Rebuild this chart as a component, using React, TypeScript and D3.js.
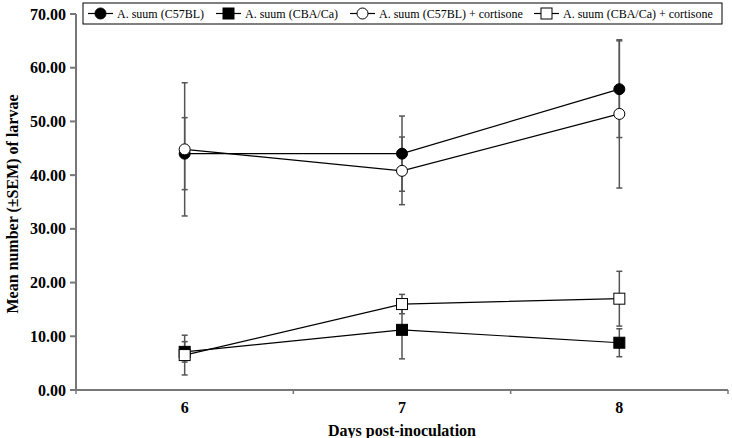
import React from 'react';
import * as d3 from 'd3';

const days = ['6', '7', '8'];
const yTicks = [0, 10, 20, 30, 40, 50, 60, 70];

const seriesNames = [
  'A. suum (C57BL)',
  'A. suum (CBA/Ca)',
  'A. suum (C57BL) + cortisone',
  'A. suum (CBA/Ca) + cortisone',
];
const c57Mean = [44.0, 44.0, 56.0];
const c57Sem = [6.7, 7.0, 9.0];
const cbaMean = [7.1, 11.2, 8.8];
const cbaSem = [1.9, 5.4, 2.6];
const c57CortMean = [44.8, 40.8, 51.4];
const c57CortSem = [12.4, 6.3, 13.8];
const cbaCortMean = [6.5, 16.0, 17.0];
const cbaCortSem = [3.7, 1.8, 5.1];

const means = [c57Mean, cbaMean, c57CortMean, cbaCortMean];
const sems = [c57Sem, cbaSem, c57CortSem, cbaCortSem];
const shapes = ['circle', 'square', 'circle', 'square'];
const fills = ['#000', '#000', '#fff', '#fff'];

const W = 732;
const H = 438;
const left = 76;
const right = 728;
const top = 14;
const bottom = 390;
const font = '"Liberation Serif", "Times New Roman", serif';

function Marker({ shape, fill, x, y }: { shape: string; fill: string; x: number; y: number }) {
  if (shape === 'circle') {
    return <circle cx={x} cy={y} r={5.5} fill={fill} stroke="#000" strokeWidth={1} />;
  }
  return <rect x={x - 5.5} y={y - 5.5} width={11} height={11} fill={fill} stroke="#000" strokeWidth={1} />;
}

export default function App() {
  const x = d3.scaleBand<string>().domain(days).range([left, right]);
  const y = d3.scaleLinear().domain([0, 70]).range([bottom, top]);
  const cx = (d: string) => (x(d) as number) + x.bandwidth() / 2;
  const line = d3.line<number>().x((_, i) => cx(days[i])).y(v => y(v));

  const legendX = [88, 216, 350, 534];
  const boundaries = [left, ...days.map(d => (x(d) as number) + x.bandwidth())];

  return (
    <svg width={W} height={H} style={{ position: 'absolute', left: 0, top: 0, background: '#fff' }}
      fontFamily={font}>
      {/* axes */}
      <line x1={left} x2={left} y1={top} y2={bottom} stroke="#777" strokeWidth={2} />
      <line x1={left} x2={right} y1={bottom} y2={bottom} stroke="#777" strokeWidth={2} />
      {yTicks.map(t => (
        <g key={t}>
          <line x1={left - 6} x2={left} y1={y(t)} y2={y(t)} stroke="#777" strokeWidth={2} />
          <text x={left - 10} y={y(t)} dy="0.35em" textAnchor="end" fontSize={16} fontWeight="bold">
            {d3.format('.2f')(t)}
          </text>
        </g>
      ))}
      {boundaries.map((b, i) => (
        <line key={i} x1={b} x2={b} y1={bottom} y2={bottom + 4} stroke="#777" strokeWidth={1.5} />
      ))}
      {days.map(d => (
        <text key={d} x={cx(d)} y={407} dy="0.35em" textAnchor="middle" fontSize={16} fontWeight="bold">{d}</text>
      ))}
      <text x={(left + right) / 2} y={430} dy="0.35em" textAnchor="middle" fontSize={16} fontWeight="bold">
        Days post-inoculation
      </text>
      <text transform={`translate(12,${(top + bottom) / 2 + 2}) rotate(-90)`} dy="0.35em" textAnchor="middle"
        fontSize={16} fontWeight="bold">
        Mean number (±SEM) of larvae
      </text>

      {/* error bars */}
      {means.map((m, s) => m.map((v, i) => {
        const px = cx(days[i]);
        const hi = y(v + sems[s][i]);
        const lo = y(v - sems[s][i]);
        return (
          <g key={`e${s}-${i}`} stroke="#555" strokeWidth={1.5}>
            <line x1={px} x2={px} y1={hi} y2={lo} />
            <line x1={px - 3} x2={px + 3} y1={hi} y2={hi} />
            <line x1={px - 3} x2={px + 3} y1={lo} y2={lo} />
          </g>
        );
      }))}

      {/* lines */}
      {means.map((m, s) => (
        <path key={`l${s}`} d={line(m) as string} fill="none" stroke="#000" strokeWidth={1.2} />
      ))}
      {means.map((m, s) => m.map((v, i) => (
        <Marker key={`m${s}-${i}`} shape={shapes[s]} fill={fills[s]} x={cx(days[i])} y={y(v)} />
      )))}

      {/* legend */}
      <rect x={83} y={3} width={639} height={21} fill="#fff" stroke="#000" strokeWidth={1} />
      {seriesNames.map((n, s) => (
        <g key={n}>
          <line x1={legendX[s]} x2={legendX[s] + 25} y1={13.5} y2={13.5} stroke="#000" strokeWidth={1.2} />
          <Marker shape={shapes[s]} fill={fills[s]} x={legendX[s] + 12.5} y={13.5} />
          <text x={legendX[s] + 29} y={13.5} dy="0.35em" fontSize={12}>{n}</text>
        </g>
      ))}
    </svg>
  );
}
